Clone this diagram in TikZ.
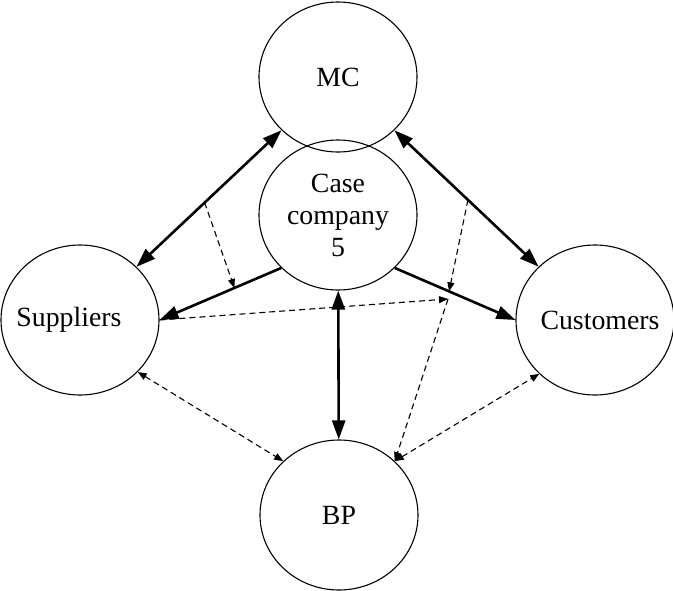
\documentclass[tikz,border=0pt]{standalone}
\usepackage{fontspec}
\setmainfont{Liberation Serif}
\usetikzlibrary{arrows.meta,shapes.geometric}

\tikzset{
  bigtri/.tip={Triangle[length=19pt,width=13pt]},
  smalltri/.tip={Triangle[length=9pt,width=7pt]},
  actor/.style={draw,ellipse,line width=1.1pt,minimum width=158pt,minimum height=150pt,
    inner sep=0pt,align=center,font=\fontsize{27.8}{32}\selectfont},
  duo/.style={line width=2.6pt,bigtri-bigtri},
  solo/.style={line width=2.6pt,-bigtri},
  info/.style={line width=1.1pt,dash pattern=on 6pt off 4pt,-smalltri},
  infoduo/.style={line width=1.1pt,dash pattern=on 6pt off 4pt,smalltri-smalltri}
}

\begin{document}
\begin{tikzpicture}[x=1pt,y=1pt]
    \useasboundingbox (0,0) rectangle (673,-590);
    % actors
    \node[actor] (mc) at (338,-77) {MC};
    \node[actor] (case) at (338,-215) {Case\\company\\5};
    \node[actor] (sup) at (80,-320) {\makebox[0pt]{Suppliers\hspace*{22pt}}};
    \node[actor] (cus) at (595,-320) {\makebox[0pt]{\hspace*{10pt}Customers}};
    \node[actor] (bp) at (339,-515) {BP};
    \coordinate (j) at (448,-299);
    % main flows
    \draw[duo] (sup) -- coordinate[pos=0.47] (m1) (mc);
    \draw[duo] (mc) -- coordinate[pos=0.51] (m3) (cus);
    \draw[solo] (case.-137) -- coordinate[pos=0.385] (m2) (sup.east);
    \draw[solo] (case.-43) -- coordinate[pos=0.45] (m4) (cus.west);
    \draw[duo] (case) -- (bp);
    % dashed flows
    \draw[info] (m1) -- (m2);
    \draw[info] (m3) -- (m4);
    \draw[info] (sup.east) -- (j);
    \draw[info] (j) -- (bp.44);
    \draw[infoduo] (sup.-42) -- (bp.136);
    \draw[infoduo] (bp.44) -- (cus.-136);
\end{tikzpicture}
\end{document}
